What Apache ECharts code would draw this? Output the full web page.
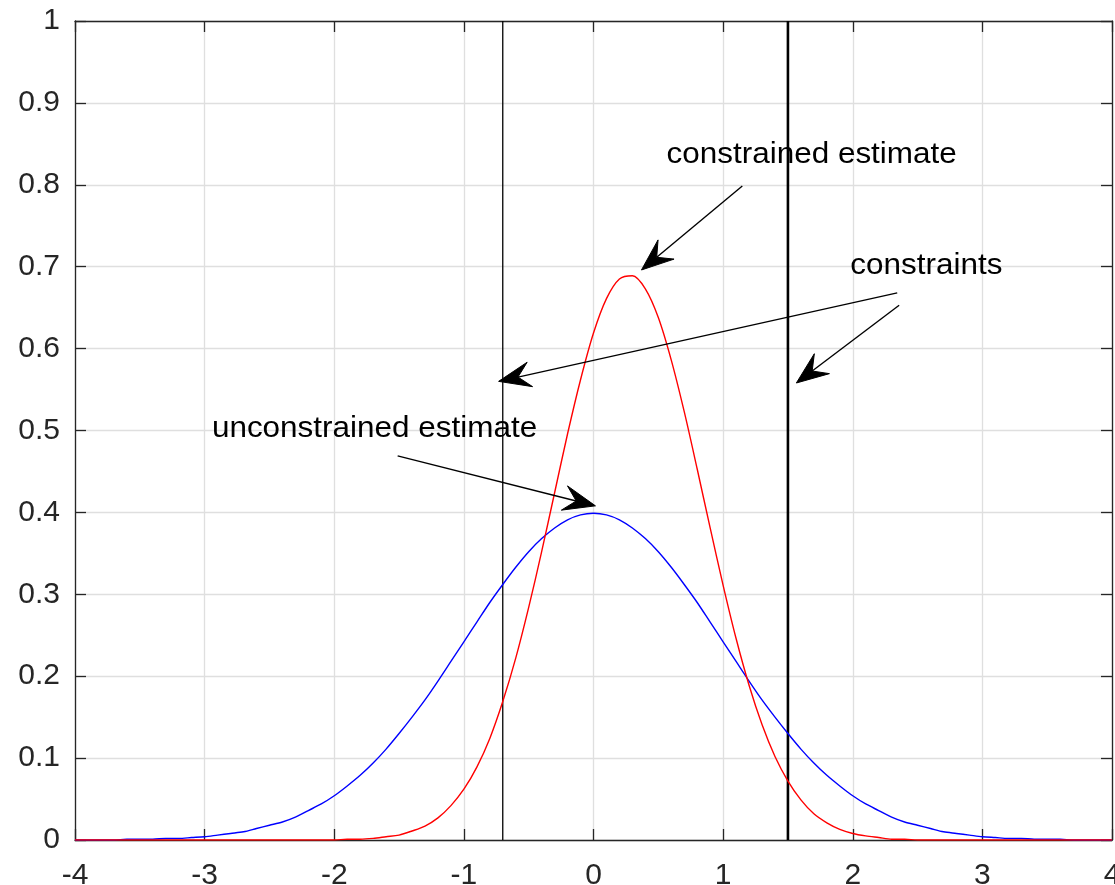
<!DOCTYPE html>
<html>
<head>
<meta charset="utf-8">
<script src="https://cdn.jsdelivr.net/npm/echarts@6/dist/echarts.min.js"></script>
<style>
html,body{margin:0;padding:0;background:#fff;}
#chart{width:1115px;height:885px;}
</style>
</head>
<body>
<div id="chart"></div>
<script>
// x positions of the sampled curves
const xs = [-4.0,-3.9,-3.8,-3.7,-3.6,-3.5,-3.4,-3.3,-3.2,-3.1,-3.0,-2.9,-2.8,-2.7,-2.6,-2.5,-2.4,-2.3,-2.2,-2.1,
  -2.0,-1.9,-1.8,-1.7,-1.6,-1.5,-1.4,-1.3,-1.2,-1.1,-1.0,-0.9,-0.8,-0.7,-0.6,-0.5,-0.4,-0.3,-0.2,-0.1,
  0.0,0.1,0.2,0.3,0.4,0.5,0.6,0.7,0.8,0.9,1.0,1.1,1.2,1.3,1.4,1.5,1.6,1.7,1.8,1.9,
  2.0,2.1,2.2,2.3,2.4,2.5,2.6,2.7,2.8,2.9,3.0,3.1,3.2,3.3,3.4,3.5,3.6,3.7,3.8,3.9,4.0];
// unconstrained estimate (blue)
const blueY = [0.000,0.000,0.000,0.000,0.001,0.001,0.001,0.002,0.002,0.003,0.004,0.006,0.008,0.010,0.014,0.018,0.022,0.028,0.036,0.044,
  0.054,0.066,0.079,0.094,0.111,0.130,0.150,0.171,0.194,0.218,0.242,0.266,0.290,0.312,0.333,0.352,0.368,0.381,0.391,0.397,
  0.399,0.397,0.391,0.381,0.368,0.352,0.333,0.312,0.290,0.266,0.242,0.218,0.194,0.171,0.150,0.130,0.111,0.094,0.079,0.066,
  0.054,0.044,0.036,0.028,0.022,0.018,0.014,0.010,0.008,0.006,0.004,0.003,0.002,0.002,0.001,0.001,0.001,0.000,0.000,0.000,0.000];
// constrained estimate (red)
const redY = [0,0,0,0,0,0,0,0,0,0,0,0,0,0,0,0,0,0,0,0,
  0.000,0.001,0.001,0.002,0.004,0.006,0.011,0.017,0.027,0.042,0.062,0.089,0.124,0.169,0.222,0.284,0.352,0.424,0.496,0.562,
  0.619,0.661,0.685,0.689,0.673,0.638,0.586,0.523,0.453,0.381,0.311,0.246,0.189,0.141,0.102,0.072,0.049,0.032,0.021,0.013,
  0.008,0.005,0.003,0.001,0.001,0,0,0,0,0,0,0,0,0,0,0,0,0,0,0,0];
// constraint positions
const constraintX = [-0.7, 1.5];
const constraintWidth = [1.3, 2.6];
// annotations (data coordinates)
const annText = ['constrained estimate', 'constraints', 'unconstrained estimate'];
const annPos = [[0.563, 0.836], [1.981, 0.701], [-2.944, 0.502]];
const arrowFrom = [[1.148, 0.7985], [2.343, 0.668], [2.358, 0.653], [-1.511, 0.469]];
const arrowTo = [[0.370, 0.696], [-0.732, 0.560], [1.565, 0.558], [0.015, 0.408]];

const AX = '#262626';
const FONT = '"Liberation Sans", Arial, Helvetica, sans-serif';
const chart = echarts.init(document.getElementById('chart'), null, {renderer: 'canvas'});

function pairs(x, y) { return x.map((v, i) => [v, y[i]]); }

const axisCommon = {
  type: 'value',
  axisLine: {show: true, onZero: false, lineStyle: {color: AX, width: 1.3}},
  axisTick: {show: true, inside: true, length: 11, lineStyle: {color: AX, width: 1.3}},
};

const series = [];
constraintX.forEach((cx, i) => {
  series.push({
    type: 'line', data: [[cx, 0], [cx, 1]], showSymbol: false, silent: true,
    lineStyle: {color: '#000', width: constraintWidth[i]}, z: 3
  });
});
series.push({type: 'line', data: pairs(xs, blueY), showSymbol: false, smooth: 0.3,
  lineStyle: {color: '#0000ff', width: 1.4}, z: 4});
series.push({type: 'line', data: pairs(xs, redY), showSymbol: false, smooth: 0.3,
  lineStyle: {color: '#ff0000', width: 1.4}, z: 5});

chart.setOption({
  animation: false,
  backgroundColor: '#fff',
  grid: {left: 75, right: 3, top: 21, bottom: 45, containLabel: false, outerBoundsMode: 'none'},
  xAxis: [
    Object.assign({}, axisCommon, {min: -4, max: 4, interval: 1, position: 'bottom',
      axisLabel: {color: AX, fontSize: 30, fontFamily: FONT, margin: 21},
      splitLine: {show: true, lineStyle: {color: '#dfdfdf', width: 1.3}}}),
    Object.assign({}, axisCommon, {min: -4, max: 4, interval: 1, position: 'top',
      axisLabel: {show: false}, splitLine: {show: false}})
  ],
  yAxis: [
    Object.assign({}, axisCommon, {min: 0, max: 1, interval: 0.1, position: 'left',
      axisLabel: {color: AX, fontSize: 30, fontFamily: FONT, margin: 15,
        formatter: v => (Math.round(v * 10) / 10).toString()},
      splitLine: {show: true, lineStyle: {color: '#dfdfdf', width: 1.3}}}),
    Object.assign({}, axisCommon, {min: 0, max: 1, interval: 0.1, position: 'right',
      axisLabel: {show: false}, splitLine: {show: false}})
  ],
  series: series
});

// annotations: text + arrows positioned via data -> pixel conversion
const graphics = [];
annText.forEach((t, i) => {
  const p = chart.convertToPixel({gridIndex: 0}, annPos[i]);
  graphics.push({type: 'text', x: p[0], y: p[1], scaleX: 1.085, z: 100,
    style: {text: t, font: '29px ' + FONT, fill: '#000', align: 'left', verticalAlign: 'middle'}});
});
arrowFrom.forEach((f, i) => {
  const a = chart.convertToPixel({gridIndex: 0}, f);
  const b = chart.convertToPixel({gridIndex: 0}, arrowTo[i]);
  const dx = b[0] - a[0], dy = b[1] - a[1];
  const len = Math.sqrt(dx * dx + dy * dy);
  const ux = dx / len, uy = dy / len, nx = -uy, ny = ux;
  const L = 32, W = 12.5, N = 0.62 * L;
  const notch = [b[0] - ux * N, b[1] - uy * N];
  graphics.push({type: 'polyline', z: 100, shape: {points: [a, notch]},
    style: {stroke: '#000', lineWidth: 1.4, fill: null}});
  graphics.push({type: 'polygon', z: 101, shape: {points: [
    b,
    [b[0] - ux * L + nx * W, b[1] - uy * L + ny * W],
    notch,
    [b[0] - ux * L - nx * W, b[1] - uy * L - ny * W]
  ]}, style: {fill: '#000', stroke: '#000', lineWidth: 1}});
});
chart.setOption({graphic: graphics});
</script>
</body>
</html>
